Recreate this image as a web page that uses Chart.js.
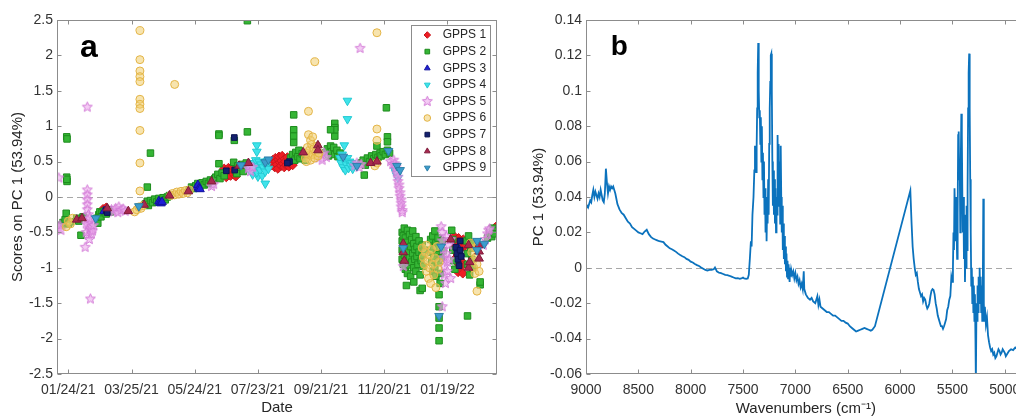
<!DOCTYPE html>
<html><head><meta charset="utf-8">
<script src="https://cdn.jsdelivr.net/npm/chart.js@4.4.1/dist/chart.umd.min.js"></script>
<style>
html,body{margin:0;padding:0;background:#fff;overflow:hidden;width:1016px;height:419px;position:relative;}
#ca{position:absolute;left:0;top:0;}
#cb{position:absolute;left:508px;top:0;}
</style></head><body>
<canvas id="ca" width="508" height="419"></canvas>
<canvas id="cb" width="530" height="419"></canvas>
<script>
// ---------- Panel a data: [days since 01/24/21, score on PC 1] ----------
const dateTickDays = [0, 60, 120, 180, 240, 300, 360];
const dateTickLabels = ['01/24/21', '03/25/21', '05/24/21', '07/23/21', '09/21/21', '11/20/21', '01/19/22'];
const seriesLabels = ['GPPS 1','GPPS 2','GPPS 3','GPPS 4','GPPS 5','GPPS 6','GPPS 7','GPPS 8','GPPS 9'];

const gpps1 = [[33,-0.17],[35,-0.19],[36,-0.15],
[146,0.30],[147,0.36],[148,0.40],[149,0.33],[150,0.28],[151,0.38],[152,0.41],[153,0.34],[154,0.30],[155,0.37],[156,0.43],[157,0.32],[158,0.35],[159,0.29],[160,0.38],
[193,0.45],[194,0.52],[195,0.48],[196,0.42],[196.5,0.55],[197,0.50],[198,0.46],[199,0.40],[199.5,0.53],[200,0.57],[201,0.49],[202,0.44],[202.5,0.51],[203,0.58],[204,0.47],[205,0.42],[205.5,0.54],[206,0.50],[207,0.45],[208,0.56],[209,0.48],[209.5,0.43],[210,0.52],[211,0.47],[212,0.50],[213,0.45],
[366,-0.55],[367,-0.62],[367.5,-0.70],[368,-0.78],[368.5,-0.85],[369,-0.92],[369.5,-1.00],[370,-1.06],[370.5,-0.58],[371,-0.66],[372,-0.74],[372.5,-0.83],[373,-0.90],[374,-0.97],[374.5,-1.08],[375,-0.60],[376,-0.70],
[404,-0.45],[405,-0.44],[406,-0.42],[407,-0.46]];

const gpps2 = [[-1.5,0.85],[-1.2,0.82],[-1.5,0.28],[-1.2,0.22],[-1.4,0.25],[78,0.62],[75,0.14],[170,2.49],[170,0.92],[143,0.89],[143,0.87],[157.6,0.80],[143,0.47],[157,0.49],
[214,1.16],[214,0.95],[214,0.86],[214,0.77],[253,1.04],[253,0.98],[253,0.86],[253,0.95],[249,0.95],[281,0.31],[302,1.26],[293,0.72],[303,0.85],[303,0.78],
[-7,-0.40],[-5,-0.36],[-3,-0.32],[-2,-0.23],[0,-0.38],[2,-0.35],
[8,-0.30],[10,-0.34],[12,-0.54],[14,-0.28],
[27,-0.30],[28,-0.37],[29,-0.25],[30,-0.21],[31,-0.28],[32,-0.22],[34,-0.20],[36,-0.24],[38,-0.18],[40,-0.21],
[73,-0.10],[75,-0.06],[76,-0.12],[78,-0.05],[80,-0.08],[82,-0.03],[84,-0.07],[86,-0.02],[88,-0.05],[90,-0.01],[92,-0.04],[94,0.0],[96,0.02],
[115,0.10],[117,0.14],[119,0.12],[121,0.16],[123,0.19],[125,0.15],[127,0.20],[129,0.17],[131,0.22],[133,0.19],[135,0.24],[137,0.22],[139,0.26],
[140,0.28],[142,0.32],[144,0.26],[146,0.34],[148,0.30],
[159,0.38],[161,0.44],[163,0.40],[165,0.46],[167,0.42],[169,0.48],[171,0.44],[160,0.33],[166,0.36],
[211,0.55],[213,0.60],[215,0.52],[216,0.63],[218,0.57],[219,0.66],[220,0.54],[222,0.61],[224,0.58],[225,0.52],
[244,0.62],[246,0.68],[247,0.58],[249,0.72],[250,0.64],[252,0.70],[253,0.60],[255,0.66],[256,0.57],[258,0.62],
[278,0.48],[280,0.52],[282,0.45],[284,0.55],[286,0.50],[288,0.58],[290,0.54],[292,0.60],[294,0.56],[296,0.62],
[297,0.58],[299,0.64],[301,0.60],[303,0.66],[305,0.62],
[317,-0.50],[317,-0.62],[317,-0.75],[317,-0.88],[318,-0.55],[318,-0.95],[319,-0.44],[319,-0.68],[319,-0.82],[320,-1.02],[320,-0.58],[321,-0.72],[321,-0.90],[322,-0.47],[322,-0.64],[322,-1.08],[323,-0.78],[323,-0.96],[324,-0.53],[324,-0.86],[325,-0.70],[325,-1.12],[326,-0.60],[326,-0.92],[327,-0.48],[327,-0.80],[328,-1.00],[328,-0.66],[329,-0.74],[329,-0.88],[330,-0.56],[330,-1.05],[331,-0.84],[331,-0.70],[332,-0.95],[333,-0.62],[333,-0.78],[334,-1.10],[335,-0.90],[336,-0.68],[336,-0.82],[337,-0.98],[338,-0.75],
[321,-1.25],[328,-1.20],[334,-1.32],[336,-1.29],
[344,-0.60],[344,-0.78],[345,-0.92],[346,-0.55],[346,-1.05],[347,-0.70],[347,-0.85],[348,-0.48],[348,-0.98],[349,-0.65],[349,-1.12],[350,-0.80],[351,-0.58],[351,-0.92],[352,-0.72],[353,-1.08],[354,-0.86],[355,-0.62],[356,-0.76],
[352,-1.38],[352,-1.55],[352,-1.71],[352,-1.85],[352,-2.03],[353,-1.22],
[364,-0.47],[365,-0.60],[365,-0.75],[366,-0.90],[367,-1.02],[378,-0.62],[379,-0.80],[379,-0.95],[380,-0.55],[381,-1.10],[382,-0.72],[383,-0.88],[384,-1.0],[385,-0.65],
[379,-1.68],[391,-1.24],[391,-1.20],
[398,-0.58],[400,-0.50],[402,-0.56],[403,-0.44],[404,-0.48],[405,-0.52]];

const gpps3 = [[34,-0.20],[86,-0.06],[87,-0.08],[88,-0.09],[89,-0.07],[122,0.14],[123,0.17],[124,0.12],[125,0.11],[370,-0.72],[372,-0.80]];

const gpps4 = [[179,0.73],[179,0.64],[187,0.19],[180,0.29],[265,1.36],[265,1.10],[262,0.73],
[172,0.38],[174,0.45],[175,0.32],[176,0.48],[177,0.40],[178,0.52],[179,0.35],[180,0.44],[181,0.50],[182,0.38],[183,0.46],[184,0.30],[185,0.42],[186,0.49],[187,0.36],[188,0.44],[189,0.51],[190,0.40],
[258,0.55],[259,0.48],[260,0.60],[261,0.42],[262,0.52],[263,0.38],[264,0.46],[265,0.55],[266,0.41],[267,0.50],[268,0.44],[269,0.48],[270,0.40],[272,0.46],
[310,0.38],[311,0.34],[312,0.30],[313,0.27]];

const gpps5 = [[-9,0.27],[-10,-0.42],[-9,-0.45],[-8,-0.40],[-7,-0.47],[18,1.27],[21,-1.44],[16,-0.71],
[18,0.10],[18,0.03],[18,-0.04],[18,-0.11],[18,-0.18],[19,-0.25],[18,-0.32],[19,-0.40],[20,-0.47],[19,-0.54],[20,-0.60],[17,-0.38],[17,-0.50],[21,-0.45],[21,-0.35],[22,-0.52],[22,-0.42],[23,-0.48],[24,-0.40],[20,-0.30],
[41,-0.18],[43,-0.21],[45,-0.16],[47,-0.22],[48,-0.14],[50,-0.19],[52,-0.17],[54,-0.20],
[136,0.15],[138,0.18],[171,0.40],[172,0.44],[173,0.36],[175,0.42],
[238,0.55],[240,0.60],[241,0.52],[243,0.62],[245,0.56],[272,0.44],[274,0.48],[276,0.42],[278,0.46],[277,2.10],
[306,0.50],[308,0.46],[309,0.52],[310,0.47],[311,0.42],[312,0.37],[312,0.33],[313,0.28],[313,0.22],[314,0.17],[314,0.12],[315,0.06],[315,0.01],[316,-0.04],[316,-0.09],[316,-0.14],[317,-0.19],[317,-0.22],
[354,-0.42],[355,-0.50],[355,-0.62],[356,-0.74],[356,-0.86],[357,-0.98],[357,-1.10],[358,-1.22],[359,-0.56],[359,-0.80],[360,-0.92],[360,-1.05],[361,-0.68],[362,-0.88],[363,-0.60],[363,-1.15],[355,-1.55],[318,-0.98],
[394,-0.68],[396,-0.60],[398,-0.52],[399,-0.47],[400,-0.45]];

const gpps6 = [[68,2.35],[68,1.94],[68,1.78],[68,1.70],[68,1.63],[68,1.38],[68,1.31],[68,1.25],[68,0.94],[68,0.48],[68,0.085],[101,1.59],[293,2.32],[234,1.91],[228,1.21],[228,0.88],[293,0.96],[293,0.80],
[-2,-0.42],[0,-0.34],[2,-0.38],[4,-0.30],
[63,-0.21],[65,-0.18],[67,-0.14],[69,-0.16],[71,-0.12],
[97,0.02],[99,0.05],[101,0.03],[103,0.07],[105,0.04],[107,0.08],[109,0.05],[111,0.09],[113,0.06],[115,0.10],
[225,0.55],[226,0.62],[227,0.70],[228,0.58],[229,0.66],[230,0.52],[231,0.74],[232,0.60],[233,0.68],[234,0.55],[235,0.64],[236,0.72],[237,0.58],[238,0.62],[226,0.50],[230,0.80],[232,0.85],
[291,0.44],[293,0.48],
[336,-0.72],[337,-0.85],[338,-0.95],[339,-0.78],[340,-1.05],[340,-0.68],[341,-0.90],[342,-1.15],[343,-0.82],[343,-1.00],[344,-1.22],[345,-0.74],[346,-0.95],[347,-1.10],[348,-0.86],[349,-1.28],[350,-0.70],[351,-1.02],[352,-0.92],
[382,-0.65],[383,-0.78],[384,-0.90],[385,-1.00],[386,-1.08],[386,-0.72],[387,-0.85],[388,-0.95],[388,-1.33],[389,-0.68],[390,-1.05]];

const gpps7 = [[36,-0.19],[37,-0.22],[157.6,0.84],[150,0.37],[158,0.38],[210,0.50],[208,0.48],
[368,-0.71],[369,-0.80],[370,-0.88],[371,-0.97],[372,-0.75],[373,-0.84],[372,-0.62]];

const gpps8 = [[8,-0.32],[13,-0.30],[37,-0.16],[57,-0.20],[72,-0.11],[96,0.02],[114,0.08],[136,0.22],[162,0.44],[171,0.48],[223,0.63],[237,0.73],[237,0.66],[287,0.48],[293,0.50],
[318,-0.66],[318,-0.78],[319,-0.90],[363,-0.60],[380,-0.68],[390,-0.68],[390,-0.77],[390,-0.87],[380,-1.0],[381,-0.92]];

const gpps9 = [[26,-0.30],[67,-0.13],[164,0.45],[187,0.49],[190,0.53],[261,0.57],[274,0.44],[304,0.65],[312,0.44],[315,0.38],
[318,-0.72],[352,-1.68],[354,-0.70],[388,-0.75],[388,-0.62],[395,-0.66]];

// ---------- Panel b data: [wavenumber (cm-1), PC 1 loading] ----------
const wavenumberTicks = [9000, 8500, 8000, 7500, 7000, 6500, 6000, 5500, 5000];
const pc1Spectrum = [[9000,0.034],[8990,0.035],[8980,0.034],[8970,0.036],[8960,0.038],[8950,0.037],[8940,0.041],[8930,0.044],[8920,0.040],[8910,0.043],[8900,0.041],[8890,0.039],[8880,0.042],[8870,0.040],[8860,0.044],[8850,0.041],[8840,0.038],[8830,0.037],[8820,0.042],[8810,0.056],[8800,0.048],[8790,0.042],[8780,0.046],[8770,0.044],[8760,0.046],[8750,0.045],[8740,0.046],[8730,0.044],[8720,0.042],[8710,0.039],[8700,0.036],[8680,0.033],[8660,0.031],[8640,0.030],[8620,0.028],[8600,0.026],[8580,0.025],[8560,0.023],[8540,0.022],[8520,0.021],[8500,0.020],[8480,0.0195],[8460,0.019],[8440,0.0205],[8420,0.0215],[8400,0.019],[8380,0.0175],[8360,0.0165],[8340,0.016],[8320,0.0155],[8300,0.015],[8280,0.0148],[8260,0.0145],[8240,0.013],[8220,0.012],[8200,0.011],[8180,0.0105],[8160,0.0098],[8140,0.009],[8120,0.008],[8100,0.0072],[8080,0.0065],[8060,0.006],[8040,0.005],[8020,0.0045],[8000,0.0035],[7980,0.003],[7960,0.0022],[7940,0.0015],[7920,0.001],[7900,0.0002],[7880,-0.0005],[7860,-0.0012],[7840,-0.0015],[7820,-0.0012],[7800,-0.0012],[7780,-0.0008],[7768,0.0002],[7750,-0.002],[7730,-0.0028],[7710,-0.003],[7690,-0.0035],[7670,-0.004],[7650,-0.0042],[7630,-0.0045],[7610,-0.005],[7590,-0.0055],[7570,-0.006],[7550,-0.0058],[7530,-0.0062],[7510,-0.0058],[7500,-0.0055],[7490,-0.006],[7470,-0.0062],[7455,-0.006],[7445,-0.004],[7435,0.005],[7425,0.015],[7418,0.012],[7410,0.03],[7400,0.04],[7392,0.055],[7386,0.069],[7380,0.06],[7375,0.054],[7370,0.068],[7365,0.09],[7360,0.11],[7355,0.127],[7350,0.10],[7345,0.085],[7340,0.089],[7335,0.07],[7330,0.085],[7325,0.06],[7320,0.08],[7315,0.05],[7310,0.065],[7305,0.04],[7300,0.06],[7295,0.03],[7290,0.045],[7285,0.02],[7280,0.04],[7275,0.015],[7270,0.035],[7265,0.025],[7260,0.05],[7255,0.03],[7250,0.07],[7245,0.09],[7240,0.105],[7235,0.12],[7230,0.121],[7225,0.10],[7220,0.06],[7215,0.035],[7210,0.055],[7205,0.03],[7200,0.05],[7195,0.025],[7190,0.045],[7185,0.02],[7180,0.04],[7175,0.03],[7170,0.075],[7165,0.05],[7160,0.07],[7155,0.035],[7150,0.06],[7145,0.025],[7140,0.069],[7135,0.04],[7130,0.02],[7125,0.035],[7120,0.01],[7115,0.025],[7110,0.005],[7105,0.018],[7100,0.002],[7095,0.012],[7090,-0.002],[7085,0.008],[7080,-0.005],[7075,0.004],[7070,-0.006],[7065,0.002],[7060,-0.004],[7055,-0.008],[7050,0.0],[7045,-0.005],[7040,-0.001],[7030,-0.004],[7020,-0.002],[7010,-0.006],[7000,-0.003],[6990,-0.007],[6980,-0.005],[6970,-0.009],[6960,-0.007],[6950,-0.011],[6940,-0.009],[6930,-0.012],[6920,-0.002],[6915,-0.012],[6900,-0.015],[6880,-0.017],[6860,-0.018],[6845,-0.017],[6830,-0.019],[6810,-0.02],[6790,-0.016],[6780,-0.021],[6770,-0.018],[6760,-0.022],[6740,-0.023],[6720,-0.024],[6700,-0.025],[6680,-0.025],[6660,-0.026],[6640,-0.027],[6620,-0.027],[6600,-0.028],[6580,-0.029],[6560,-0.030],[6540,-0.030],[6520,-0.031],[6500,-0.0315],[6480,-0.033],[6460,-0.034],[6440,-0.035],[6420,-0.036],[6400,-0.0355],[6380,-0.035],[6360,-0.0345],[6340,-0.034],[6320,-0.0345],[6300,-0.035],[6280,-0.0355],[6265,-0.035],[6240,-0.033],[5902,0.0436],[5890,0.025],[5880,0.012],[5870,0.005],[5860,0.0],[5850,-0.004],[5840,-0.003],[5830,-0.008],[5820,-0.012],[5810,-0.014],[5800,-0.016],[5790,-0.015],[5780,-0.019],[5770,-0.017],[5760,-0.018],[5750,-0.021],[5740,-0.023],[5730,-0.022],[5720,-0.02],[5710,-0.016],[5700,-0.013],[5690,-0.012],[5680,-0.0125],[5670,-0.015],[5660,-0.02],[5650,-0.023],[5640,-0.027],[5630,-0.029],[5620,-0.031],[5610,-0.033],[5600,-0.033],[5590,-0.0345],[5580,-0.033],[5570,-0.031],[5560,-0.029],[5550,-0.024],[5540,-0.022],[5530,-0.018],[5520,-0.016],[5510,-0.005],[5500,-0.008],[5495,0.0],[5490,0.02],[5485,0.01],[5480,0.045],[5475,0.03],[5470,0.015],[5465,0.04],[5460,0.02],[5455,0.005],[5450,0.03],[5445,0.075],[5440,0.077],[5435,0.05],[5430,0.06],[5425,0.02],[5420,0.06],[5415,0.087],[5410,0.075],[5405,0.04],[5400,0.02],[5395,0.04],[5390,0.005],[5385,0.03],[5380,-0.008],[5375,0.015],[5370,0.0],[5365,0.035],[5360,0.01],[5355,0.045],[5350,0.09],[5345,0.11],[5340,0.121],[5335,0.09],[5330,0.05],[5325,0.02],[5320,-0.01],[5315,0.0],[5310,-0.02],[5305,-0.005],[5300,-0.025],[5295,-0.01],[5290,-0.03],[5285,-0.015],[5280,-0.04],[5276,-0.065],[5270,-0.02],[5265,-0.03],[5260,-0.01],[5255,-0.025],[5250,-0.005],[5245,-0.02],[5240,0.0],[5235,-0.015],[5230,-0.005],[5225,-0.025],[5220,-0.01],[5215,-0.03],[5210,-0.015],[5205,0.039],[5200,-0.02],[5195,-0.03],[5190,-0.022],[5180,-0.032],[5170,-0.028],[5160,-0.038],[5150,-0.042],[5140,-0.045],[5130,-0.047],[5120,-0.046],[5110,-0.049],[5100,-0.048],[5090,-0.051],[5080,-0.05],[5070,-0.048],[5060,-0.046],[5050,-0.047],[5040,-0.049],[5030,-0.048],[5020,-0.046],[5010,-0.047],[5000,-0.048],[4990,-0.05],[4980,-0.049],[4960,-0.047],[4940,-0.046],[4920,-0.0465],[4900,-0.045],[4880,-0.046],[4860,-0.047],[4840,-0.046],[4820,-0.045]];

// ---------- styling ----------
const FONT = "'Liberation Sans', Arial, Helvetica, sans-serif";
Chart.defaults.font.family = FONT;
Chart.defaults.color = '#333';

function makeStar(r, stroke, fill) {
  const c = document.createElement('canvas');
  const s = Math.ceil(r * 2 + 2);
  c.width = s; c.height = s;
  const g = c.getContext('2d');
  g.beginPath();
  for (let k = 0; k < 10; k++) {
    const ang = -Math.PI / 2 + k * Math.PI / 5;
    const rr = (k % 2) ? r * 0.45 : r;
    g.lineTo(s / 2 + rr * Math.cos(ang), s / 2 + rr * Math.sin(ang));
  }
  g.closePath();
  g.fillStyle = fill; g.fill();
  g.strokeStyle = stroke; g.lineWidth = 1; g.stroke();
  return c;
}
const starImg = makeStar(5.2, '#d27ad6', 'rgba(236,170,236,0.6)');

const seriesData = [gpps1, gpps2, gpps3, gpps4, gpps5, gpps6, gpps7, gpps8, gpps9];
const seriesStyle = [
  {style: 'rectRot', r: 4.6, rot: 0, fill: '#ee1c24', edge: '#c8161c'},
  {style: 'rect', r: 4.6, rot: 0, fill: '#35b535', edge: '#1e8c1e'},
  {style: 'triangle', r: 5, rot: 0, fill: '#1f1fd6', edge: '#14149e'},
  {style: 'triangle', r: 5, rot: 180, fill: '#3fe3ea', edge: '#22c9d2'},
  {style: starImg, r: 5, rot: 0, fill: 'rgba(236,170,236,0.6)', edge: '#d27ad6'},
  {style: 'circle', r: 4, rot: 0, fill: 'rgba(240,205,110,0.55)', edge: '#e3b446'},
  {style: 'rect', r: 4, rot: 0, fill: '#14206e', edge: '#0b1450'},
  {style: 'triangle', r: 5, rot: 0, fill: '#a8284e', edge: '#7e1a3a'},
  {style: 'triangle', r: 5, rot: 180, fill: '#3b9ccc', edge: '#2a7ea8'}
];

const framePlugin = {
  id: 'frame',
  beforeDatasetsDraw(chart) {
    const {ctx, chartArea: a, scales: {y}} = chart;
    const y0 = Math.round(y.getPixelForValue(0)) + 0.5;
    ctx.save();
    ctx.strokeStyle = '#a8a8a8'; ctx.lineWidth = 1; ctx.setLineDash([6, 4]);
    ctx.beginPath(); ctx.moveTo(a.left, y0); ctx.lineTo(a.right, y0); ctx.stroke();
    ctx.restore();
  },
  afterDraw(chart, args, opts) {
    const {ctx, chartArea: a, scales: {x, y}} = chart;
    const L = Math.round(a.left) + 0.5, R = Math.round(a.right) - 0.5;
    const T = Math.round(a.top) + 0.5, B = Math.round(a.bottom) - 0.5;
    ctx.save();
    ctx.strokeStyle = '#8c8c8c'; ctx.lineWidth = 1;
    ctx.strokeRect(L, T, R - L, B - T);
    ctx.beginPath();
    x.ticks.forEach(t => {
      const px = Math.round(x.getPixelForValue(t.value)) + 0.5;
      ctx.moveTo(px, B); ctx.lineTo(px, B - 4);
      ctx.moveTo(px, T); ctx.lineTo(px, T + 4);
    });
    y.ticks.forEach(t => {
      const py = Math.round(y.getPixelForValue(t.value)) + 0.5;
      ctx.moveTo(L, py); ctx.lineTo(L + 4, py);
      ctx.moveTo(R, py); ctx.lineTo(R - 4, py);
    });
    ctx.stroke();
    ctx.fillStyle = '#000';
    ctx.font = 'bold ' + opts.size + 'px ' + FONT;
    ctx.textBaseline = 'alphabetic'; ctx.textAlign = 'left';
    ctx.fillText(opts.letter, opts.lx, opts.ly);
    ctx.restore();
  }
};

const legendPlugin = {
  id: 'boxLegend',
  afterDraw(chart) {
    const ctx = chart.ctx;
    const bx = 411.5, by = 25.5, bw = 79, bh = 151;
    ctx.save();
    ctx.fillStyle = '#fff'; ctx.fillRect(bx, by, bw, bh);
    ctx.strokeStyle = '#8c8c8c'; ctx.lineWidth = 1; ctx.strokeRect(bx, by, bw, bh);
    ctx.font = '12px ' + FONT;
    ctx.textBaseline = 'middle'; ctx.textAlign = 'left';
    chart.data.datasets.forEach((ds, i) => {
      const cy = 35 + i * 16.6;
      ctx.fillStyle = ds.backgroundColor; ctx.strokeStyle = ds.borderColor; ctx.lineWidth = 1;
      Chart.helpers.drawPoint(ctx, {pointStyle: ds.pointStyle, rotation: ds.pointRotation || 0, radius: 3.3, borderWidth: 1}, 427.3, cy);
      ctx.fillStyle = '#262626';
      ctx.fillText(ds.label, 442.7, cy);
    });
    ctx.restore();
  }
};

// ---------- Panel a ----------
new Chart(document.getElementById('ca'), {
  type: 'scatter',
  data: {
    datasets: seriesData.map((arr, i) => ({
      label: seriesLabels[i],
      data: arr.map(p => ({x: p[0], y: p[1]})),
      pointStyle: seriesStyle[i].style,
      pointRotation: seriesStyle[i].rot,
      pointRadius: seriesStyle[i].r,
      backgroundColor: seriesStyle[i].fill,
      borderColor: seriesStyle[i].edge,
      borderWidth: 1,
      order: 9 - i
    }))
  },
  options: {
    responsive: false, animation: false, devicePixelRatio: 1,
    layout: {padding: {left: 0, top: 20, right: 11, bottom: 0}},
    plugins: {legend: {display: false}, tooltip: {enabled: false},
      frame: {letter: 'a', lx: 80, ly: 57, size: 32}},
    scales: {
      x: {
        type: 'linear', min: -10.73, max: 407,
        grid: {display: false, drawTicks: false}, border: {display: false},
        afterBuildTicks: s => { s.ticks = dateTickDays.map(v => ({value: v})); },
        afterFit: s => { s.height = 45; },
        ticks: {autoSkip: false, maxRotation: 0, padding: 8, color: '#333', font: {size: 14},
          callback: v => { const k = dateTickDays.indexOf(v); return k >= 0 ? dateTickLabels[k] : ''; }},
        title: {display: true, text: 'Date', color: '#262626', font: {size: 15}, padding: {top: 0, bottom: 2}}
      },
      y: {
        type: 'linear', min: -2.5, max: 2.5,
        grid: {display: false, drawTicks: false}, border: {display: false},
        afterFit: s => { s.width = 57; },
        ticks: {stepSize: 0.5, padding: 4, color: '#333', font: {size: 14},
          callback: v => String(Math.round(v * 10) / 10)},
        title: {display: true, text: 'Scores on PC 1 (53.94%)', color: '#262626', font: {size: 15}, padding: {top: 9, bottom: 0}}
      }
    }
  },
  plugins: [framePlugin, legendPlugin]
});

// ---------- Panel b ----------
new Chart(document.getElementById('cb'), {
  type: 'scatter',
  data: {
    datasets: [{
      label: 'PC 1',
      data: pc1Spectrum.map(p => ({x: p[0], y: p[1]})),
      showLine: true, pointRadius: 0, borderColor: '#0b72bd', borderWidth: 1.8, tension: 0
    }]
  },
  options: {
    responsive: false, animation: false, devicePixelRatio: 1,
    layout: {padding: {left: 0, top: 20, right: 12.3, bottom: 0}},
    plugins: {legend: {display: false}, tooltip: {enabled: false},
      frame: {letter: 'b', lx: 102.7, ly: 55, size: 28}},
    scales: {
      x: {
        type: 'linear', min: 4800, max: 9000, reverse: true,
        grid: {display: false, drawTicks: false}, border: {display: false},
        afterBuildTicks: s => { s.ticks = wavenumberTicks.map(v => ({value: v})); },
        afterFit: s => { s.height = 45; },
        ticks: {autoSkip: false, maxRotation: 0, padding: 8, color: '#333', font: {size: 14},
          callback: v => String(v)},
        title: {display: true, text: 'Wavenumbers (cm\u207B\u00B9)', color: '#262626', font: {size: 15}, padding: {top: 0, bottom: 1}}
      },
      y: {
        type: 'linear', min: -0.06, max: 0.14,
        grid: {display: false, drawTicks: false}, border: {display: false},
        afterFit: s => { s.width = 78; },
        ticks: {stepSize: 0.02, padding: 4, color: '#333', font: {size: 14},
          callback: v => String(Math.round(v * 100) / 100)},
        title: {display: true, text: 'PC 1 (53.94%)', color: '#262626', font: {size: 15}, padding: {top: 22, bottom: 0}}
      }
    }
  },
  plugins: [framePlugin]
});
</script>
</body></html>
